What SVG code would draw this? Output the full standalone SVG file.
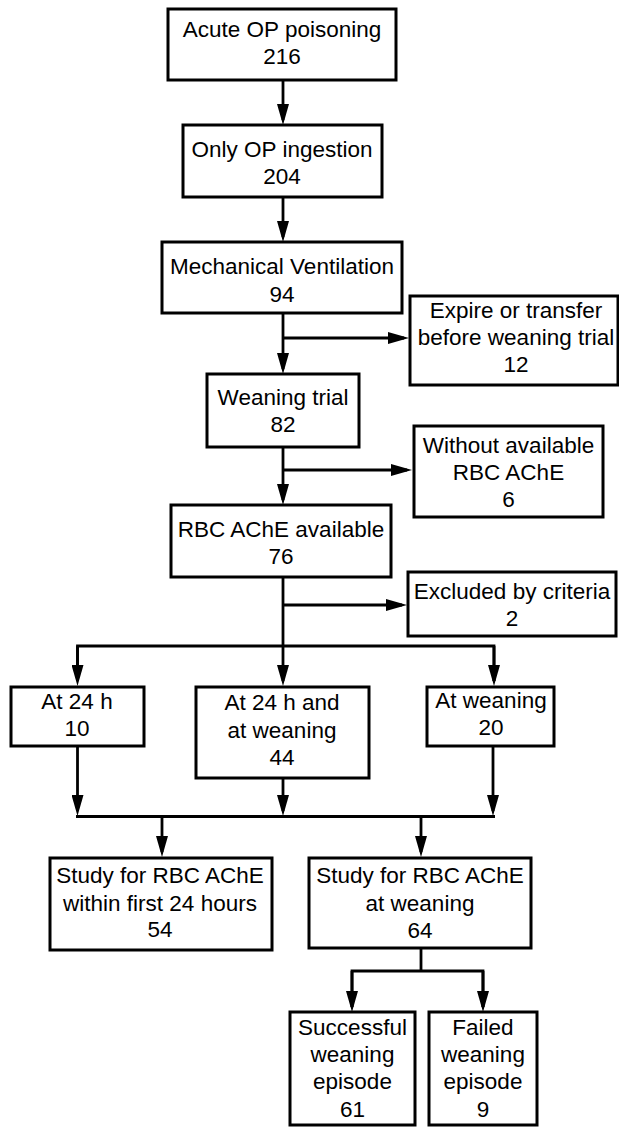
<svg xmlns="http://www.w3.org/2000/svg" width="619" height="1127" viewBox="0 0 619 1127">
<style>
rect.box{fill:#fff;stroke:#000;stroke-width:3}
text{font-family:"Liberation Sans",Arial,sans-serif;font-size:22.5px;fill:#000;text-anchor:middle}
.c path,.c line{stroke:#000;stroke-width:2.8;fill:none}
</style>
<defs>
<marker id="ah" markerUnits="userSpaceOnUse" markerWidth="21" markerHeight="12" refX="16" refY="6" orient="auto">
<path d="M0,0 L21,6 L0,12 z" fill="#000"/>
</marker>
</defs>
<rect width="619" height="1127" fill="#fff"/>
<g class="c" id="connectors">
<line x1="283" y1="80" x2="283" y2="120" marker-end="url(#ah)"/>
<line x1="283" y1="197" x2="283" y2="237" marker-end="url(#ah)"/>
<line x1="283" y1="313" x2="283" y2="369" marker-end="url(#ah)"/>
<line x1="283" y1="338" x2="404" y2="338" marker-end="url(#ah)"/>
<line x1="283" y1="447" x2="283" y2="500" marker-end="url(#ah)"/>
<line x1="283" y1="470" x2="407" y2="470" marker-end="url(#ah)"/>
<line x1="283" y1="577" x2="283" y2="681" marker-end="url(#ah)"/>
<line x1="283" y1="605" x2="402" y2="605" marker-end="url(#ah)"/>
<path d="M77.5,681 V646 H494 V681"/>
<line x1="77.5" y1="646" x2="77.5" y2="681" marker-end="url(#ah)"/>
<line x1="494" y1="646" x2="494" y2="681" marker-end="url(#ah)"/>
<line x1="77.5" y1="746" x2="77.5" y2="811" marker-end="url(#ah)"/>
<line x1="283" y1="778" x2="283" y2="811" marker-end="url(#ah)"/>
<line x1="493" y1="746" x2="493" y2="811" marker-end="url(#ah)"/>
<line x1="76" y1="816.5" x2="495" y2="816.5"/>
<line x1="162" y1="816" x2="162" y2="852" marker-end="url(#ah)"/>
<line x1="421" y1="816" x2="421" y2="852" marker-end="url(#ah)"/>
<path d="M421,948 V971"/>
<path d="M352,1007 V971 H483 V1007"/>
<line x1="352" y1="971" x2="352" y2="1007" marker-end="url(#ah)"/>
<line x1="483" y1="971" x2="483" y2="1007" marker-end="url(#ah)"/>
</g>
<g id="n1"><rect class="box" x="168" y="9" width="228" height="71"/><text x="282" y="37">Acute OP poisoning</text><text x="282" y="64">216</text></g>
<g id="n2"><rect class="box" x="183" y="125" width="199" height="72"/><text x="282" y="157">Only OP ingestion</text><text x="282" y="184">204</text></g>
<g id="n3"><rect class="box" x="162" y="242" width="240" height="71"/><text x="282" y="274">Mechanical Ventilation</text><text x="282" y="302">94</text></g>
<g id="n4"><rect class="box" x="410" y="296" width="208" height="89"/><text x="516" y="318">Expire or transfer</text><text x="516" y="345">before weaning trial</text><text x="516" y="372">12</text></g>
<g id="n5"><rect class="box" x="207" y="374" width="152" height="73"/><text x="283" y="405">Weaning trial</text><text x="283" y="432">82</text></g>
<g id="n6"><rect class="box" x="414" y="426" width="189" height="91"/><text x="508.5" y="453">Without available</text><text x="508.5" y="480">RBC AChE</text><text x="508.5" y="507">6</text></g>
<g id="n7"><rect class="box" x="171" y="505" width="220" height="72"/><text x="281" y="537">RBC AChE available</text><text x="281" y="564">76</text></g>
<g id="n8"><rect class="box" x="408" y="572" width="208" height="64"/><text x="512" y="599">Excluded by criteria</text><text x="512" y="626">2</text></g>
<g id="n9"><rect class="box" x="11" y="687" width="133" height="59"/><text x="77" y="709">At 24 h</text><text x="77" y="736">10</text></g>
<g id="n10"><rect class="box" x="196" y="687" width="173" height="91"/><text x="282" y="710">At 24 h and</text><text x="282" y="738">at weaning</text><text x="282" y="765">44</text></g>
<g id="n11"><rect class="box" x="427" y="687" width="127" height="59"/><text x="491" y="708">At weaning</text><text x="491" y="735">20</text></g>
<g id="n12"><rect class="box" x="50" y="858" width="222" height="92"/><text x="160" y="883">Study for RBC AChE</text><text x="160" y="911">within first 24 hours</text><text x="160" y="937">54</text></g>
<g id="n13"><rect class="box" x="309" y="858" width="222" height="90"/><text x="420" y="883">Study for RBC AChE</text><text x="420" y="911">at weaning</text><text x="420" y="938">64</text></g>
<g id="n14"><rect class="box" x="290" y="1012" width="125" height="113"/><text x="352.5" y="1035">Successful</text><text x="352.5" y="1062">weaning</text><text x="352.5" y="1089">episode</text><text x="352.5" y="1117">61</text></g>
<g id="n15"><rect class="box" x="429" y="1012" width="108" height="113"/><text x="483" y="1035">Failed</text><text x="483" y="1062">weaning</text><text x="483" y="1089">episode</text><text x="483" y="1117">9</text></g>
</svg>
